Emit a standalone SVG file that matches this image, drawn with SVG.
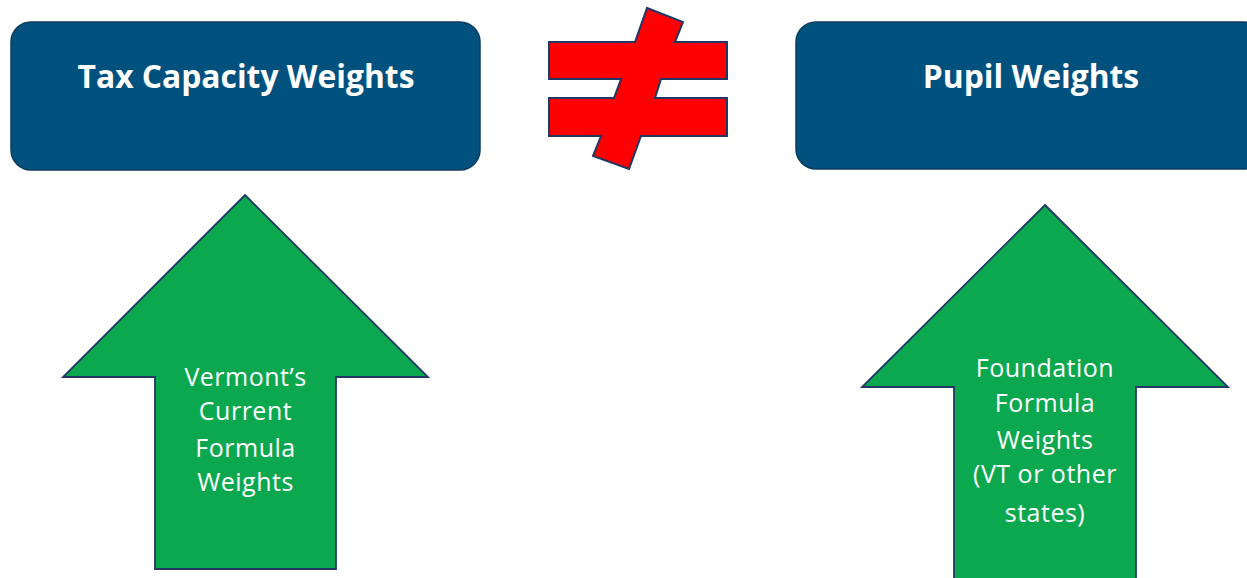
<svg xmlns="http://www.w3.org/2000/svg" width="1247" height="578" viewBox="0 0 1247 578">
<style>
.box{fill:#01517F;stroke:#0B3D5E;stroke-width:1.5}
.arrow{fill:#0BA84F;stroke:#1F3864;stroke-width:1.8;stroke-linejoin:miter}
.title{font-family:"Open Sans","Liberation Sans",sans-serif;font-weight:bold;font-size:31.8px;fill:#FFFFFF;text-anchor:middle}
.label{font-family:"Open Sans","Liberation Sans",sans-serif;font-size:25px;letter-spacing:0.5px;fill:#FFFFFF;text-anchor:middle}
.neq{fill:#FF0000;stroke:#1F3864;stroke-width:2;stroke-linejoin:miter}
</style>
<rect width="1247" height="578" fill="#FFFFFF"/>
<g id="connectors"></g>
<g id="tax-capacity-weights">
<rect class="box" x="11" y="22" width="469" height="148" rx="20" ry="20"/>
<text class="title" x="246" y="88">Tax Capacity Weights</text>
</g>
<g id="pupil-weights">
<rect class="box" x="796" y="22" width="468" height="147" rx="20" ry="20"/>
<text class="title" x="1031" y="88">Pupil Weights</text>
</g>
<g id="not-equal">
<polygon class="neq" points="647,8 683,22 675,42 727,42 727,79 661,79 655,98 727,98 727,136 641,136 629,169 593,156 601,136 549,136 549,98 614,98 621,79 549,79 549,42 635,42"/>
</g>
<g id="vermont-current-arrow">
<polygon class="arrow" points="245,195 428,377 336,377 336,569 155,569 155,377 63,377"/>
<text class="label" x="245.5" y="386">Vermont’s</text>
<text class="label" x="245.5" y="420">Current</text>
<text class="label" x="245.5" y="457">Formula</text>
<text class="label" x="245.5" y="491">Weights</text>
</g>
<g id="foundation-formula-arrow">
<polygon class="arrow" points="1045,205 1228,387 1136,387 1136,590 954,590 954,387 862,387"/>
<text class="label" x="1045" y="377">Foundation</text>
<text class="label" x="1045" y="412">Formula</text>
<text class="label" x="1045" y="449">Weights</text>
<text class="label" x="1045" y="483">(VT or other</text>
<text class="label" x="1045" y="522">states)</text>
</g>
</svg>
